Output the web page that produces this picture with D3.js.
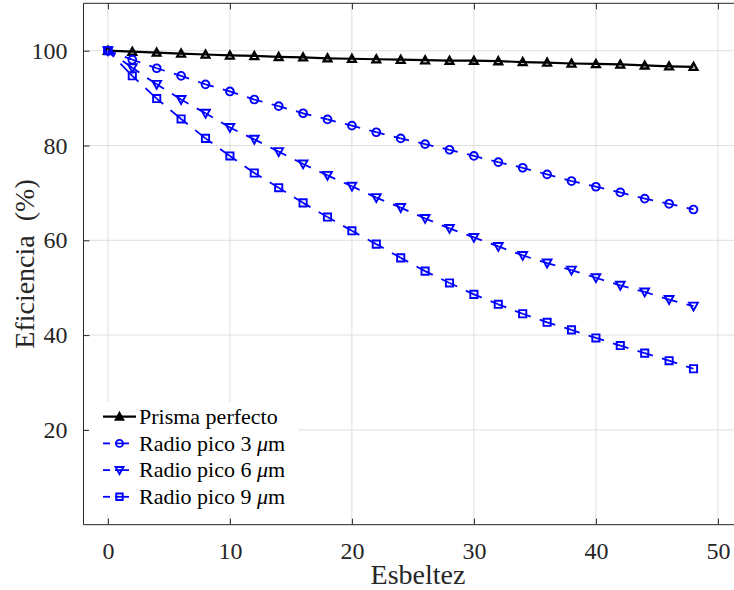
<!DOCTYPE html>
<html><head><meta charset="utf-8">
<script src="https://cdn.jsdelivr.net/npm/d3@7"></script>
<style>html,body{margin:0;padding:0;background:#fff;}svg, svg text{font-family:"Liberation Serif","Times New Roman",Times,"DejaVu Serif",serif;}</style>
</head><body>
<script>
const esbeltez = [0,2,4,6,8,10,12,14,16,18,20,22,24,26,28,30,32,34,36,38,40,42,44,46,48];
const prismaPerfecto = [100,99.8,99.6,99.4,99.2,99.0,98.9,98.7,98.6,98.4,98.3,98.2,98.1,98.0,97.9,97.9,97.8,97.6,97.5,97.3,97.2,97.1,96.9,96.7,96.6];
const radio3 = [100,98.1,96.3,94.7,92.9,91.4,89.7,88.3,86.8,85.5,84.2,82.8,81.5,80.3,79.1,77.8,76.5,75.3,73.9,72.5,71.3,70.1,68.8,67.7,66.5];
const radio6 = [100,96.4,92.9,89.7,86.8,83.8,81.3,78.7,76.1,73.7,71.4,69.0,66.9,64.6,62.5,60.6,58.7,56.8,55.2,53.7,52.1,50.5,49.1,47.5,46.1];
const radio9 = [100,94.7,89.9,85.6,81.5,77.8,74.2,71.1,67.9,64.9,62.0,59.2,56.3,53.5,51.0,48.6,46.5,44.5,42.7,41.1,39.4,37.8,36.2,34.6,32.9];
const xTicks = [0,10,20,30,40,50];
const yTicks = [20,40,60,80,100];
const seriesNames = ["Prisma perfecto","Radio pico 3","Radio pico 6","Radio pico 9"];
const unitSuffix = [null,"\u03BCm","\u03BCm","\u03BCm"];

const W=734,H=590;
const L=83.5, R=742.3, T=3.3, B=524.7;
const x=d3.scaleLinear().domain([-2,52]).range([L,R]);
const y=d3.scaleLinear().domain([0,110]).range([B,T]);
const FONT='"Liberation Serif","Times New Roman",Times,"DejaVu Serif",serif';

const svg=d3.select("body").append("svg").attr("width",W).attr("height",H).attr("font-family",FONT);
svg.append("rect").attr("width",W).attr("height",H).attr("fill","#fff");

const axC="#262626", gridC="#dfdfdf";
svg.append("g").selectAll("line").data(xTicks).join("line")
 .attr("x1",d=>x(d)).attr("x2",d=>x(d)).attr("y1",T).attr("y2",B)
 .attr("stroke",gridC).attr("stroke-width",1);
svg.append("g").selectAll("line").data(yTicks).join("line")
 .attr("x1",L).attr("x2",R).attr("y1",d=>y(d)).attr("y2",d=>y(d))
 .attr("stroke",gridC).attr("stroke-width",1);

svg.append("clipPath").attr("id","clip").append("rect").attr("x",L).attr("y",T).attr("width",R-L).attr("height",B-T);
const plot=svg.append("g").attr("clip-path","url(#clip)");

function markerPath(type,s){
  if(type==="tri-up") return `M0,${-s}L${s},${s*0.8}L${-s},${s*0.8}Z`;
  if(type==="tri-down") return `M0,${s}L${s},${-s*0.8}L${-s},${-s*0.8}Z`;
  if(type==="square") return `M${-s},${-s}H${s}V${s}H${-s}Z`;
  if(type==="circle") return d3.arc()({innerRadius:0,outerRadius:s,startAngle:0,endAngle:2*Math.PI});
}

const DASH="8.5,9.5,1000";
const series=[
 {vals:prismaPerfecto,color:"#000",dash:null,width:2.2,marker:"tri-up",ms:3.9,mw:2.3},
 {vals:radio3,color:"#0000ff",dash:DASH,width:1.8,marker:"circle",ms:3.9,mw:1.9},
 {vals:radio6,color:"#0000ff",dash:DASH,width:1.8,marker:"tri-down",ms:4.4,mw:1.9},
 {vals:radio9,color:"#0000ff",dash:DASH,width:1.8,marker:"square",ms:3.6,mw:1.9}
];

const line=d3.line().x(d=>x(d[0])).y(d=>y(d[1]));
series.forEach(s=>{
  const pts=esbeltez.map((e,j)=>[e,s.vals[j]]);
  if(s.dash){
    const segs=d3.pairs(pts);
    plot.append("g").selectAll("path").data(segs).join("path").attr("d",d=>line(d))
     .attr("fill","none").attr("stroke",s.color).attr("stroke-width",s.width).attr("stroke-dasharray",s.dash);
  } else {
    plot.append("path").attr("d",line(pts)).attr("fill","none").attr("stroke",s.color)
     .attr("stroke-width",s.width);
  }
  plot.append("g").selectAll("path").data(pts).join("path")
   .attr("transform",d=>`translate(${x(d[0])},${y(d[1])})`)
   .attr("d",markerPath(s.marker,s.ms)).attr("fill","none")
   .attr("stroke",s.color).attr("stroke-width",s.mw);
});

svg.append("line").attr("x1",L).attr("x2",L).attr("y1",T).attr("y2",B).attr("stroke",axC).attr("stroke-width",1);
svg.append("line").attr("x1",L).attr("x2",R).attr("y1",B).attr("y2",B).attr("stroke",axC).attr("stroke-width",1);
svg.append("line").attr("x1",L).attr("x2",R).attr("y1",T).attr("y2",T).attr("stroke",axC).attr("stroke-width",1);

const tl=6;
const xAxis=svg.append("g").attr("transform",`translate(0,${B})`)
 .call(d3.axisBottom(x).tickValues(xTicks).tickSizeInner(-tl).tickSizeOuter(0).tickPadding(17));
const xAxisTop=svg.append("g").attr("transform",`translate(0,${T})`)
 .call(d3.axisTop(x).tickValues(xTicks).tickSizeInner(-tl).tickSizeOuter(0).tickFormat(""));
const yAxis=svg.append("g").attr("transform",`translate(${L},0)`)
 .call(d3.axisLeft(y).tickValues(yTicks).tickSizeInner(-tl).tickSizeOuter(0).tickPadding(16));
[xAxis,xAxisTop,yAxis].forEach(g=>{
  g.attr("font-family",FONT).attr("font-size",24);
  g.select(".domain").remove();
  g.selectAll(".tick line").attr("stroke",axC);
  g.selectAll("text").attr("fill",axC);
});
xAxis.selectAll("text").attr("dy","0.71em");

svg.append("text").attr("x",418).attr("y",584).attr("text-anchor","middle")
 .attr("font-size",28).attr("fill",axC).text("Esbeltez");
svg.append("text").attr("transform",`translate(34,${(T+B)/2}) rotate(-90)`).attr("text-anchor","middle")
 .attr("font-size",28).attr("fill",axC).attr("xml:space","preserve").text("Eficiencia  (%)");

const lg=svg.append("g");
lg.append("rect").attr("x",89).attr("y",402).attr("width",209).attr("height",112).attr("fill","#fff");
series.forEach((s,i)=>{
  const yy=416.7+i*26.7;
  const g=lg.append("g");
  if(s.dash){
    g.append("line").attr("x1",103).attr("x2",110).attr("y1",yy).attr("y2",yy).attr("stroke",s.color).attr("stroke-width",s.width);
    g.append("line").attr("x1",115).attr("x2",129).attr("y1",yy).attr("y2",yy).attr("stroke",s.color).attr("stroke-width",s.width);
  } else {
    g.append("line").attr("x1",103).attr("x2",136).attr("y1",yy).attr("y2",yy).attr("stroke",s.color).attr("stroke-width",s.width);
  }
  g.append("path").attr("transform",`translate(119.5,${yy})`).attr("d",markerPath(s.marker,s.ms*0.9))
   .attr("fill",i===0?"#000":"none").attr("stroke",s.color).attr("stroke-width",s.mw);
  const t=g.append("text").attr("x",139).attr("y",yy).attr("dy","0.33em").attr("font-size",22).attr("fill","#000")
   .text(seriesNames[i]);
  if(unitSuffix[i]){
    t.append("tspan").attr("dx","0.25em").attr("font-style","italic").text("\u03BC");
    t.append("tspan").text("m");
  }
});
</script>
</body></html>
